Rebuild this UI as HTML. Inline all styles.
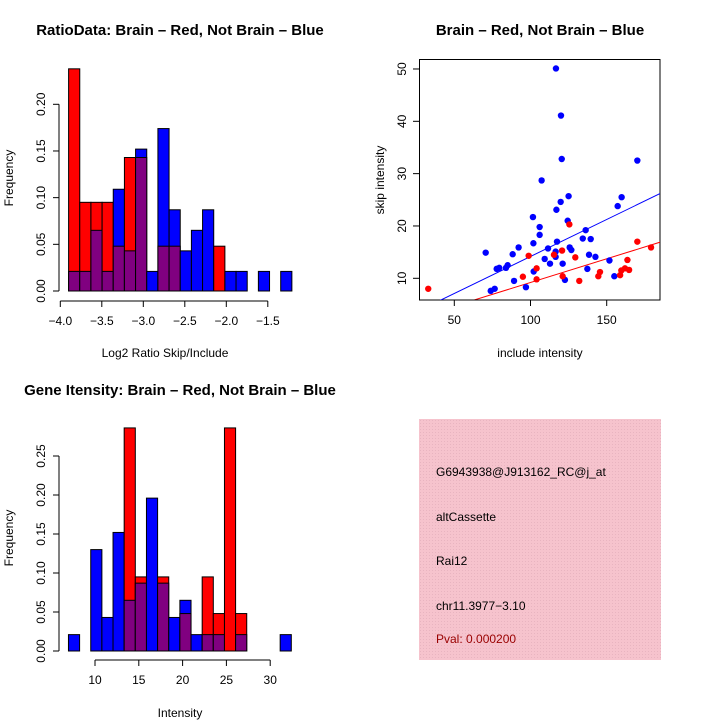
<!DOCTYPE html>
<html><head><meta charset="utf-8"><style>
body{margin:0;background:#fff}
svg{display:block;font-family:"Liberation Sans",sans-serif}
</style></head><body>
<svg id="c" width="720" height="720" viewBox="0 0 720 720">
<defs><pattern id="hatch" width="3" height="3" patternUnits="userSpaceOnUse"><rect width="3" height="3" fill="#f6c3cd"/><rect width="1" height="1" fill="#e8b4c0"/></pattern></defs>
</svg>
<script>
// Top-left histogram (Log2 ratio)
const ratioBinStart = -3.9, ratioBinWidth = 0.1345;
const ratioRed  = [0.238,0.095,0.095,0.095,0.048,0.143,0.143,0,0.048,0.048,0,0,0,0.048,0,0,0,0,0,0];
const ratioBlue = [0.021,0.021,0.065,0.021,0.109,0.043,0.152,0.021,0.174,0.087,0.043,0.065,0.087,0,0.021,0.021,0,0.021,0,0.021];
const ratioXTicks = [-4.0,-3.5,-3.0,-2.5,-2.0,-1.5];
const ratioXLabels = ["\u22124.0","\u22123.5","\u22123.0","\u22122.5","\u22122.0","\u22121.5"];
const ratioYTicks = [0,0.05,0.10,0.15,0.20];
const ratioYLabels = ["0.00","0.05","0.10","0.15","0.20"];
// Bottom-left histogram (Intensity)
const intBinStart = 6.97, intBinWidth = 1.272;
const intRed  = [0,0,0,0,0,0.286,0.095,0,0.095,0,0.048,0,0.095,0.048,0.286,0.048,0,0,0,0];
const intBlue = [0.021,0,0.130,0.043,0.152,0.065,0.087,0.196,0.087,0.043,0.065,0.021,0.021,0.021,0,0.021,0,0,0,0.021];
const intXTicks = [10,15,20,25,30];
const intXLabels = ["10","15","20","25","30"];
const intYTicks = [0,0.05,0.10,0.15,0.20,0.25];
const intYLabels = ["0.00","0.05","0.10","0.15","0.20","0.25"];
// Scatter
const blueX = [116.7,120,120.5,107.3,125,119.8,117,124.4,101.6,106,106,136.2,159.8,157.2,170.1,117.4,101.9,92.2,88.3,70.6,85,83.9,79.5,77.8,76.5,73.9,89.2,97,102.1,109.3,111.5,112.8,116.5,116.5,121.1,125.7,126.8,122.6,134.3,139.5,138.4,142.6,137.3,151.8,155];
const blueY = [50.1,41.1,32.8,28.7,25.7,24.6,23.1,21,21.7,19.8,18.3,19.2,25.5,23.8,32.5,17,16.7,15.9,14.6,14.9,12.5,12,12,11.8,8,7.6,9.5,8.3,11.3,13.7,15.7,12.8,15.1,14.1,12.8,15.9,15.4,9.7,17.6,17.5,14.5,14.1,11.8,13.4,10.4];
const redX = [32.9,98.8,104,95,104,115.4,120.7,125.5,129.4,121.1,132,145.6,144.5,158.8,159.6,162,163.6,164.7,170.1,179.1];
const redY = [8,14.3,11.9,10.3,9.8,14.5,15.3,20.3,14,10.4,9.5,11.2,10.4,10.6,11.5,11.9,13.5,11.6,17,15.9];
const blueFit = [0.03,0.1414];
const redFit = [0.14,0.0906];
const scXTicks = [50,100,150];
const scYTicks = [10,20,30,40,50];

const svg = document.getElementById('c');
const NS = 'http://www.w3.org/2000/svg';
function mk(tag, attrs, parent){const e=document.createElementNS(NS,tag);for(const k in attrs)e.setAttribute(k,attrs[k]);(parent||svg).appendChild(e);return e;}
function txt(x,y,s,size,opts){const e=mk('text',Object.assign({x:x,y:y,'font-size':size,'text-anchor':'middle',fill:'#000'},opts||{}));e.textContent=s;return e;}

function histogram(name, binStart, binW, red, blue, xs, ys, xTicks, xLabels, yTicks, yLabels, axisY, yAxisX){
  const g = mk('g',{});
  
  
  const y0 = ys(0);
  for(let i=0;i<red.length;i++){
    const x1 = xs(binStart+i*binW), x2 = xs(binStart+(i+1)*binW);
    const r = red[i], b = blue[i];
    const mx = Math.max(r,b), mn = Math.min(r,b);
    if(mx>0){
      const rc = mk('rect',{x:x1,y:ys(mx),width:x2-x1,height:y0-ys(mx),fill:r>=b?'#ff0000':'#0000ff',stroke:'#000','stroke-width':1},g);
      
      
    }
    if(mn>0){
      const pc = mk('rect',{x:x1,y:ys(mn),width:x2-x1,height:y0-ys(mn),fill:'#800080',stroke:'#000','stroke-width':1},g);
      
      
    }
  }
  const xa = mk('g',{},g);
  
  
  mk('line',{x1:xs(xTicks[0]),x2:xs(xTicks[xTicks.length-1]),y1:axisY,y2:axisY,stroke:'#000'},xa);
  xTicks.forEach((t,i)=>{mk('line',{x1:xs(t),x2:xs(t),y1:axisY,y2:axisY+6,stroke:'#000'},xa);
    const l=txt(xs(t),axisY+24,xLabels[i],12,{}); xa.appendChild(l);});
  const ya = mk('g',{},g);
  
  
  mk('line',{x1:yAxisX,x2:yAxisX,y1:ys(yTicks[0]),y2:ys(yTicks[yTicks.length-1]),stroke:'#000'},ya);
  yTicks.forEach((t,i)=>{mk('line',{x1:yAxisX-6,x2:yAxisX,y1:ys(t),y2:ys(t),stroke:'#000'},ya);
    const l=txt(yAxisX-18,ys(t)+4,yLabels[i],12,{transform:'rotate(-90 '+(yAxisX-18)+' '+ys(t)+')'}); ya.appendChild(l);});
}
// Top-left
histogram('ratio-histogram', ratioBinStart, ratioBinWidth, ratioRed, ratioBlue,
  v=>60.3+(v+4)*83, v=>291-v*933.5, ratioXTicks, ratioXLabels, ratioYTicks, ratioYLabels, 301, 59);
// Bottom-left
histogram('intensity-histogram', intBinStart, intBinWidth, intRed, intBlue,
  v=>95+(v-10)*8.76, v=>651-v*780, intXTicks, intXLabels, intYTicks, intYLabels, 660, 59);

// Scatter
const sx = v=>454.3+(v-50)*1.524, sy = v=>278.3-(v-10)*5.233;
const sg = mk('g',{});


const clip = mk('clipPath',{id:'sclip'},sg); mk('rect',{x:419.5,y:59.5,width:240.5,height:240.5},clip);
mk('rect',{x:419.5,y:59.5,width:240.5,height:240.5,fill:'none',stroke:'#000'},sg);
function fit(f,col,nm){const x1=20,x2=200;const l=mk('line',{x1:sx(x1),y1:sy(f[0]+f[1]*x1),x2:sx(x2),y2:sy(f[0]+f[1]*x2),stroke:col,'stroke-width':1,'clip-path':'url(#sclip)'},sg);
  
  }
fit(blueFit,'#0000ff','blue-fit-line');
fit(redFit,'#ff0000','red-fit-line');
blueX.forEach((x,i)=>{const c=mk('circle',{cx:sx(x),cy:sy(blueY[i]),r:3.2,fill:'#0000ff'},sg);
  
  });
redX.forEach((x,i)=>{const c=mk('circle',{cx:sx(x),cy:sy(redY[i]),r:3.2,fill:'#ff0000'},sg);
  
  });
scXTicks.forEach(t=>{mk('line',{x1:sx(t),x2:sx(t),y1:300,y2:306,stroke:'#000'},sg);txt(sx(t),324,String(t),12);});
mk('line',{x1:sx(50),x2:sx(150),y1:300,y2:300,stroke:'#000'},sg);
scYTicks.forEach(t=>{mk('line',{x1:413,x2:419.5,y1:sy(t),y2:sy(t),stroke:'#000'},sg);txt(402,sy(t)+4,String(t),12,{transform:'rotate(-90 402 '+sy(t)+')'});});
mk('line',{x1:419.5,x2:419.5,y1:sy(10),y2:sy(50),stroke:'#000'},sg);
</script>
<script>
const s2=document.getElementById('c');
function T(x,y,s,size,name,o){const e=document.createElementNS('http://www.w3.org/2000/svg','text');e.setAttribute('x',x);e.setAttribute('y',y);e.setAttribute('font-size',size);e.setAttribute('text-anchor','middle');
 for(const k in (o||{}))e.setAttribute(k,o[k]);e.textContent=s;
 
 
 s2.appendChild(e);return e;}
T(180,35,'RatioData: Brain \u2013 Red, Not Brain \u2013 Blue',15,'ratio-title',{'font-weight':'bold'});
T(540,35,'Brain \u2013 Red, Not Brain \u2013 Blue',15,'scatter-title',{'font-weight':'bold'});
T(180,395,'Gene Itensity: Brain \u2013 Red, Not Brain \u2013 Blue',15,'intensity-title',{'font-weight':'bold'});
T(165,357,'Log2 Ratio Skip/Include',12,'ratio-x-title');
T(540,357,'include intensity',12,'scatter-x-title');
T(180,717,'Intensity',12,'intensity-x-title');
T(13,178,'Frequency',12,'ratio-y-title',{transform:'rotate(-90 13 178)'});
T(13,538,'Frequency',12,'intensity-y-title',{transform:'rotate(-90 13 538)'});
T(384,180,'skip intensity',12,'scatter-y-title',{transform:'rotate(-90 384 180)'});
const box=document.createElementNS('http://www.w3.org/2000/svg','rect');
box.setAttribute('x',419);box.setAttribute('y',419);box.setAttribute('width',242);box.setAttribute('height',241);box.setAttribute('fill','url(#hatch)');


s2.appendChild(box);
T(436,476,'G6943938@J913162_RC@j_at',12,'probe-id',{'text-anchor':'start'});
T(436,521,'altCassette',12,'event-type',{'text-anchor':'start'});
T(436,565,'Rai12',12,'gene-name',{'text-anchor':'start'});
T(436,610,'chr11.3977\u22123.10',12,'location',{'text-anchor':'start'});
T(436,643,'Pval: 0.000200',12,'pvalue',{'text-anchor':'start',fill:'#990000'});
</script>
</body></html>
